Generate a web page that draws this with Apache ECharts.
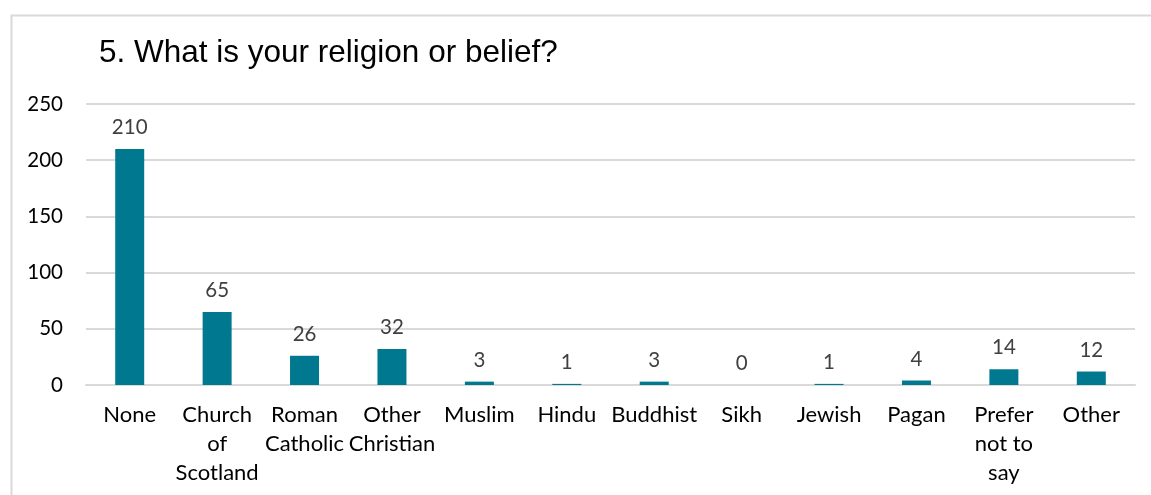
<!DOCTYPE html>
<html>
<head>
<meta charset="utf-8">
<script src="https://cdn.jsdelivr.net/npm/echarts@6/dist/echarts.min.js"></script>
<style>
  html, body { margin: 0; padding: 0; background: #ffffff; }
  #chart { width: 1151px; height: 495px; }
</style>
</head>
<body>
<div id="chart"></div>
<script>
// Survey question 5: responses per religion / belief
const categories = [
  'None', 'Church\nof\nScotland', 'Roman\nCatholic', 'Other\nChristian', 'Muslim',
  'Hindu', 'Buddhist', 'Sikh', 'Jewish', 'Pagan', 'Prefer\nnot to\nsay', 'Other'
];
const counts = [210, 65, 26, 32, 3, 1, 3, 0, 1, 4, 14, 12];
const yTicks = { min: 0, max: 250, interval: 50 };
const titleText = '5. What is your religion or belief?';

const chart = echarts.init(document.getElementById('chart'), null, { renderer: 'canvas' });
const labelFont = 'Lato, "Noto Sans", sans-serif';

chart.setOption({
  animation: false,
  backgroundColor: '#ffffff',
  title: {
    text: titleText,
    left: 94,
    top: 32,
    textStyle: {
      fontFamily: '"Liberation Sans", Arial, sans-serif',
      fontSize: 31.5,
      fontWeight: 'normal',
      color: '#000000'
    }
  },
  graphic: [{
    type: 'rect',
    left: 9,
    top: 13,
    shape: { x: 0, y: 0, width: 1170, height: 520 },
    style: { fill: 'none', stroke: '#d9d9d9', lineWidth: 2 },
    silent: true
  }],
  grid: { left: 86, right: 16, top: 104, bottom: 110, containLabel: false },
  xAxis: {
    type: 'category',
    data: categories,
    axisLine: { show: true, lineStyle: { color: '#d9d9d9', width: 2 } },
    axisTick: { show: false },
    axisLabel: {
      interval: 0,
      margin: 15,
      fontFamily: labelFont,
      fontSize: 22,
      lineHeight: 29,
      color: '#000000'
    }
  },
  yAxis: {
    type: 'value',
    min: yTicks.min,
    max: yTicks.max,
    interval: yTicks.interval,
    axisLine: { show: false },
    axisTick: { show: false },
    splitLine: { lineStyle: { color: '#d9d9d9', width: 2 } },
    axisLabel: {
      margin: 23,
      fontFamily: labelFont,
      fontSize: 20.5,
      color: '#000000'
    }
  },
  series: [{
    type: 'bar',
    data: counts,
    barWidth: 29,
    itemStyle: { color: '#00788f' },
    label: {
      show: true,
      position: 'top',
      distance: 11,
      fontFamily: labelFont,
      fontSize: 20.5,
      color: '#404040'
    }
  }]
});
</script>
</body>
</html>
